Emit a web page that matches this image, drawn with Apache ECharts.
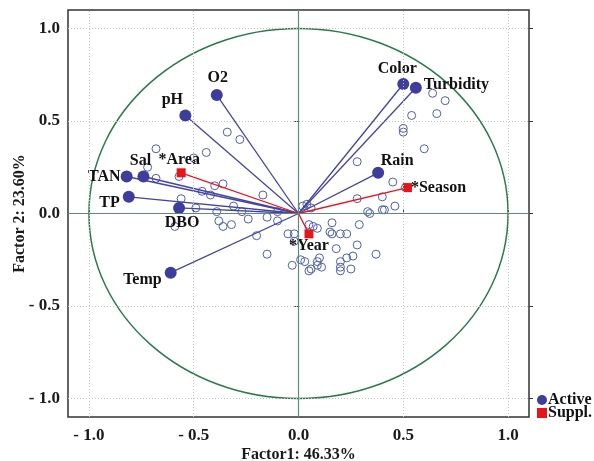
<!DOCTYPE html>
<html>
<head>
<meta charset="utf-8">
<script src="https://cdn.jsdelivr.net/npm/echarts@6/dist/echarts.min.js"></script>
<style>
  html, body { margin: 0; padding: 0; background: #fff; }
  #chart { width: 594px; height: 461px; }
</style>
</head>
<body>
<div id="chart"></div>
<script>
// active variables (factor coordinates)
var activeNames = ['O2', 'pH', 'Sal', 'TAN', 'TP', 'DBO', 'Temp', 'Color', 'Turbidity', 'Rain'];
var activeX = [-0.39, -0.54, -0.74, -0.82, -0.81, -0.57, -0.61, 0.50, 0.56, 0.38];
var activeY = [0.64, 0.53, 0.20, 0.20, 0.09, 0.03, -0.32, 0.70, 0.68, 0.22];

// supplementary variables
var supplNames = ['*Area', '*Season', '*Year'];
var supplX = [-0.56, 0.52, 0.05];
var supplY = [0.22, 0.14, -0.11];

// cases (open circles)
var caseX = [-0.34, -0.28, -0.68, -0.44, -0.50, -0.72, -0.57, -0.68, -0.36, -0.40,
             -0.46, -0.42, -0.17, -0.56, -0.31, -0.49, -0.39, -0.27, -0.15, -0.24,
             -0.10, -0.38, -0.36, -0.32, -0.10, -0.20, -0.05, -0.02, -0.15, -0.02,
             -0.59, 0.04, 0.02, 0.06, 0.28, 0.33, 0.34, 0.40, 0.41, 0.46,
             0.05, 0.07, 0.09, 0.16, 0.29, 0.15, 0.16, 0.20, 0.23, 0.28,
             0.10, 0.18, 0.37, 0.26, 0.23, 0.01, 0.03, -0.03, 0.09, 0.09,
             0.11, 0.20, 0.20, 0.20, 0.25, 0.05, 0.06, 0.64, 0.70, 0.66,
             0.54, 0.50, 0.50, 0.60, 0.28, 0.45, 0.51, 0.40];
var caseY = [0.44, 0.40, 0.35, 0.33, 0.30, 0.25, 0.20, 0.19, 0.16, 0.15,
             0.12, 0.10, 0.10, 0.08, 0.04, 0.03, 0.01, 0.01, -0.02, -0.03,
             0.01, -0.04, -0.07, -0.06, -0.04, -0.12, -0.11, -0.11, -0.22, -0.15,
             -0.07, 0.05, 0.04, 0.03, 0.08, 0.01, 0.00, 0.02, 0.02, 0.04,
             -0.06, -0.07, -0.08, -0.05, -0.06, -0.10, -0.11, -0.11, -0.11, -0.17,
             -0.24, -0.19, -0.22, -0.23, -0.24, -0.25, -0.26, -0.28, -0.26, -0.28,
             -0.29, -0.26, -0.29, -0.31, -0.30, -0.31, -0.30, 0.65, 0.61, 0.54,
             0.53, 0.46, 0.44, 0.35, 0.28, 0.17, 0.14, 0.09];

var tickValues = [-1, -0.5, 0, 0.5, 1];

var FONT = 'Liberation Serif';
var BLUE = '#3d3d9c';
var RED = '#e8141c';

// where each label sits relative to its marker
var labelPlace = {
    'O2': ['top', [1, 0]],
    'pH': ['top', [-13, 1]],
    'Sal': ['top', [-3, 1]],
    'TAN': ['left', [3, 0]],
    'TP': ['left', [0, 6]],
    'DBO': ['bottom', [3, -2]],
    'Temp': ['left', [0, 7]],
    'Color': ['top', [-6, 2]],
    'Turbidity': ['right', [-1, -3]],
    'Rain': ['top', [19, 5]],
    '*Area': ['top', [-2, 3]],
    '*Season': ['right', [-4, 0]],
    '*Year': ['bottom', [0, -3]]
};

function pts(names, xs, ys) {
    var out = [];
    for (var i = 0; i < xs.length; i++) {
        var p = { value: [xs[i], ys[i]] };
        if (names) {
            p.name = names[i];
            var pl = labelPlace[names[i]];
            p.label = { show: true, position: pl[0], offset: pl[1], formatter: names[i] };
        }
        out.push(p);
    }
    return out;
}

function vectorItem(color) {
    return function (params, api) {
        var o = api.coord([0, 0]);
        var p = api.coord([api.value(0), api.value(1)]);
        return {
            type: 'line',
            shape: { x1: o[0], y1: o[1], x2: p[0], y2: p[1] },
            style: { stroke: color, lineWidth: 1.3 }
        };
    };
}

function tickFmt(v) {
    if (Math.abs(v) < 1e-9) return '0.0';
    return (v < 0 ? '- ' : '') + Math.abs(v).toFixed(1);
}

var gridLines = [];
tickValues.forEach(function (v) {
    if (v !== 0) {
        gridLines.push({ xAxis: v, lineStyle: { color: '#c4c4c4', type: [1, 2], width: 1 } });
        gridLines.push({ yAxis: v, lineStyle: { color: '#c4c4c4', type: [1, 2], width: 1 } });
    }
});
gridLines.push({ xAxis: 0, lineStyle: { color: '#5f8a78', type: 'solid', width: 1.2 } });
gridLines.push({ yAxis: 0, lineStyle: { color: '#5f8a78', type: 'solid', width: 1.2 } });

var axisText = { fontFamily: FONT, fontWeight: 'bold', fontSize: 17, color: '#1a1a1a' };
var markText = { fontFamily: FONT, fontWeight: 'bold', fontSize: 16, color: '#111', distance: 3 };

var myChart = echarts.init(document.getElementById('chart'));
var option = {
    animation: false,
    backgroundColor: '#fff',
    textStyle: { fontFamily: FONT },
    grid: {
        left: 68, right: 65, top: 10, bottom: 44,
        outerBoundsMode: 'none', containLabel: false,
        show: true, borderColor: '#333', borderWidth: 1.5
    },
    legend: {
        left: 532, top: 387, orient: 'vertical',
        itemWidth: 10, itemHeight: 10, itemGap: -3,
        textStyle: { fontFamily: FONT, fontWeight: 'bold', fontSize: 16, lineHeight: 14, color: '#111', padding: [0, 0, 0, -4] },
        data: [{ name: 'Active', icon: 'circle' }, { name: 'Suppl.', icon: 'rect' }]
    },
    xAxis: {
        type: 'value', min: -1.1, max: 1.1,
        name: 'Factor1: 46.33%', nameLocation: 'middle', nameGap: 30, nameMoveOverlap: false,
        nameTextStyle: { fontFamily: FONT, fontWeight: 'bold', fontSize: 16, color: '#1a1a1a' },
        axisLine: { show: false },
        splitLine: { show: false },
        axisTick: { show: true, inside: true, length: 4, customValues: tickValues, lineStyle: { color: '#333' } },
        axisLabel: Object.assign({ margin: 10, customValues: tickValues, formatter: tickFmt }, axisText)
    },
    yAxis: [{
        type: 'value', min: -1.1, max: 1.1,
        name: 'Factor 2: 23.60%', nameLocation: 'middle', nameGap: 40, nameRotate: 90, nameMoveOverlap: false,
        nameTextStyle: { fontFamily: FONT, fontWeight: 'bold', fontSize: 16, color: '#1a1a1a' },
        axisLine: { show: false },
        splitLine: { show: false },
        axisTick: { show: true, length: 4, customValues: tickValues, lineStyle: { color: '#333' } },
        axisLabel: Object.assign({ margin: 8, customValues: tickValues, formatter: tickFmt }, axisText)
    }, {
        type: 'value', min: -1.1, max: 1.1, position: 'right',
        axisLine: { show: false },
        splitLine: { show: false },
        axisTick: { show: true, length: 4, customValues: tickValues, lineStyle: { color: '#333' } },
        axisLabel: { show: false }
    }],
    series: [
        {
            // grid lines and unit circle
            type: 'custom',
            silent: true,
            z: 1,
            data: [[0, 0]],
            renderItem: function (params, api) {
                var c = api.coord([0, 0]);
                var s = api.size([1, 1]);
                return {
                    type: 'ellipse',
                    shape: { cx: c[0], cy: c[1], rx: s[0], ry: s[1] },
                    style: { fill: 'none', stroke: '#2b7a4b', lineWidth: 1.5 }
                };
            },
            markLine: { silent: true, symbol: 'none', label: { show: false }, data: gridLines }
        },
        {
            name: 'cases',
            type: 'scatter',
            z: 2,
            symbol: 'circle',
            symbolSize: 8,
            itemStyle: { color: 'rgba(0,0,0,0)', borderColor: '#4f5fae', borderWidth: 1, opacity: 1 },
            data: pts(null, caseX, caseY)
        },
        {
            type: 'custom',
            z: 3,
            silent: true,
            renderItem: vectorItem('#4444a4'),
            data: pts(null, activeX, activeY)
        },
        {
            type: 'custom',
            z: 3,
            silent: true,
            renderItem: vectorItem(RED),
            data: pts(null, supplX, supplY)
        },
        {
            name: 'Active',
            type: 'scatter',
            z: 4,
            symbol: 'circle',
            symbolSize: 12,
            itemStyle: { color: BLUE, opacity: 1 },
            label: markText,
            data: pts(activeNames, activeX, activeY)
        },
        {
            name: 'Suppl.',
            type: 'scatter',
            z: 4,
            symbol: 'rect',
            symbolSize: 9,
            itemStyle: { color: RED, opacity: 1 },
            label: markText,
            data: pts(supplNames, supplX, supplY)
        }
    ]
};
myChart.setOption(option);
</script>
</body>
</html>
